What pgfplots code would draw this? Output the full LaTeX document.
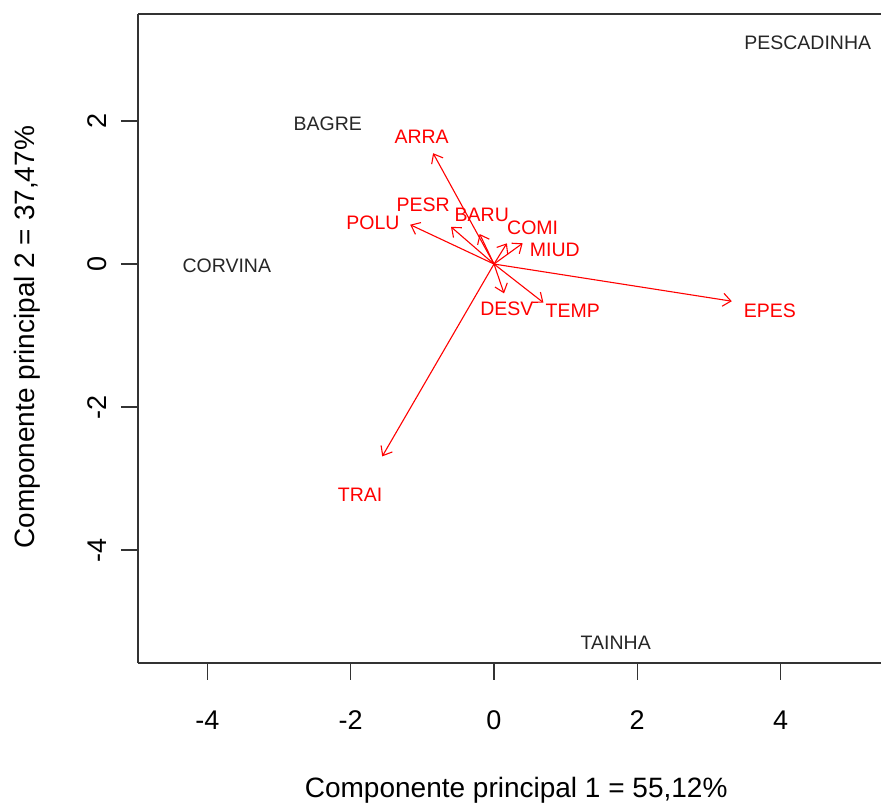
\documentclass[border=0pt]{standalone}
\usepackage{pgfplots}
\pgfplotsset{compat=1.18}
\usepackage{pgfplotstable}
\usepackage{fontspec}
\setmainfont{Liberation Sans}
\usetikzlibrary{arrows.meta}

% Variable loadings (arrow tips)
\pgfplotstableread{
x y u v
0 0 -0.85 1.55
0 0 -1.17 0.55
0 0 -0.60 0.52
0 0 -0.20 0.42
0 0 0.18 0.29
0 0 0.40 0.29
0 0 0.14 -0.41
0 0 0.69 -0.54
0 0 3.32 -0.52
0 0 -1.56 -2.69
}\loadings

% Variable labels
\pgfplotstableread{
x y label
-1.01 1.78 ARRA
-1.69 0.57 POLU
-0.99 0.83 PESR
-0.17 0.69 BARU
0.54 0.50 COMI
0.85 0.20 MIUD
0.18 -0.63 DESV
1.10 -0.66 TEMP
3.85 -0.66 EPES
-1.87 -3.23 TRAI
}\varlabels

% Species scores
\pgfplotstableread{
x y label
4.38 3.10 PESCADINHA
-2.32 1.96 BAGRE
-3.73 -0.03 CORVINA
1.70 -5.30 TAINHA
}\species

\begin{document}
\begin{tikzpicture}
\path[use as bounding box] (0,0) rectangle (881bp,803bp);
\begin{axis}[
  at={(138bp,140bp)}, anchor=south west,
  scale only axis, width=743bp, height=649bp,
  xmin=-4.970, xmax=5.403, ymin=-5.580, ymax=3.497,
  axis x line*=bottom, axis y line*=left,
  axis line style={-, line width=1.4bp, black!80},
  xtick={-4,-2,0,2,4}, ytick={-4,-2,0,2},
  tick align=outside, major tick length=17bp,
  tick style={line width=1.4bp, black!80},
  /pgf/number format/assume math mode=true,
  ticklabel style={font=\fontsize{27bp}{30bp}\selectfont},
  xticklabel style={anchor=center, yshift=-40bp},
  yticklabel style={xshift=-24bp, rotate=90, anchor=center},
  xlabel={Componente principal 1 = 55,12\%},
  ylabel={Componente principal 2 = 37,47\%},
  label style={font=\fontsize{28bp}{32bp}\selectfont},
  xlabel style={at={(axis description cs:0.509,-0.1957)}, anchor=center},
  ylabel style={at={(axis description cs:-0.1494,0.502)}, anchor=center},
  clip=false,
]
\draw[line width=1.4bp, black!80] (rel axis cs:0,1) -- (rel axis cs:1,1);
\addplot[red, line width=1.1bp, -{Straight Barb[length=8bp, width=13bp, line width=1.1bp]},
  quiver={u=\thisrow{u}, v=\thisrow{v}}] table {\loadings};
\addplot[only marks, mark=none, nodes near coords, point meta=explicit symbolic,
  nodes near coords style={anchor=center, text=red, inner sep=0pt, font=\fontsize{19.5bp}{22bp}\selectfont}]
  table[meta=label] {\varlabels};
\addplot[only marks, mark=none, nodes near coords, point meta=explicit symbolic,
  nodes near coords style={anchor=center, text=black!85, inner sep=0pt, font=\fontsize{19.5bp}{22bp}\selectfont}]
  table[meta=label] {\species};
\end{axis}
\end{tikzpicture}
\end{document}
